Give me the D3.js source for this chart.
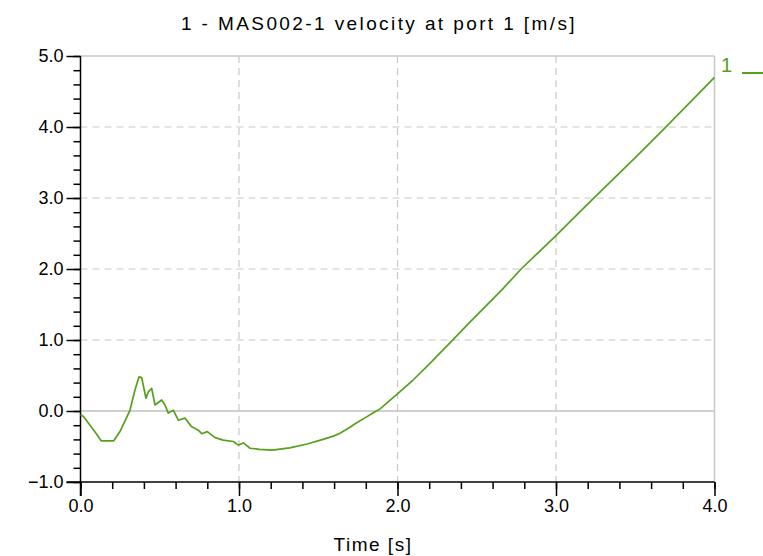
<!DOCTYPE html>
<html>
<head>
<meta charset="utf-8">
<script src="https://cdn.jsdelivr.net/npm/d3@7"></script>
<style>
  html, body { margin: 0; padding: 0; background: #fff; }
  svg { display: block; }
  text { font-family: "Liberation Sans", Arial, sans-serif; fill: #000; }
</style>
</head>
<body>
<svg id="chart" width="763" height="556"></svg>
<script>
const title = "1 - MAS002-1 velocity at port 1 [m/s]";
const xLabel = "Time [s]";
const legendLabel = "1";
const xTicks = [0, 1, 2, 3, 4];
const yTicks = [-1, 0, 1, 2, 3, 4, 5];

const time = [0.0, 0.02, 0.06, 0.10, 0.13, 0.21, 0.249, 0.312, 0.344, 0.369, 0.386, 0.413, 0.428, 0.449, 0.47, 0.512, 0.533, 0.554, 0.586, 0.617, 0.659, 0.70, 0.743, 0.765, 0.80, 0.849, 0.90, 0.964, 0.996, 1.027, 1.07, 1.13, 1.21, 1.32, 1.43, 1.53, 1.60, 1.64, 1.70, 1.74, 1.80, 1.85, 1.89, 1.95, 2.0, 2.05, 2.10, 2.2, 2.34, 2.46, 2.66, 2.78, 3.0, 3.23, 3.5, 3.68, 4.0];
const velocity = [-0.05, -0.08, -0.2, -0.32, -0.42, -0.42, -0.29, 0.01, 0.30, 0.48, 0.47, 0.18, 0.27, 0.32, 0.085, 0.155, 0.085, -0.03, 0.01, -0.13, -0.10, -0.22, -0.27, -0.32, -0.29, -0.375, -0.41, -0.43, -0.48, -0.45, -0.525, -0.54, -0.55, -0.52, -0.465, -0.40, -0.35, -0.31, -0.23, -0.17, -0.09, -0.02, 0.03, 0.145, 0.24, 0.34, 0.44, 0.66, 0.98, 1.26, 1.71, 2.0, 2.47, 2.98, 3.57, 3.97, 4.7];

const lineColor = "#55a01c";
const gridColor = "#c8c8c8";

const svg = d3.select("#chart");
const x = d3.scaleLinear().domain([0, 4]).range([80.5, 714.5]);
const y = d3.scaleLinear().domain([-1, 5]).range([482, 56]);

// grid
const g = svg.append("g");
g.selectAll(".hg").data(yTicks.filter(d => d > -1 && d < 5 && d !== 0)).join("line")
  .attr("x1", x(0)).attr("x2", x(4)).attr("y1", d => y(d)).attr("y2", d => y(d))
  .attr("stroke", gridColor).attr("stroke-width", 1.2).attr("stroke-dasharray", "7,5");
g.selectAll(".vg").data(xTicks.filter(d => d > 0 && d < 4)).join("line")
  .attr("y1", y(5)).attr("y2", y(-1)).attr("x1", d => x(d)).attr("x2", d => x(d))
  .attr("stroke", gridColor).attr("stroke-width", 1.2).attr("stroke-dasharray", "7,5");
// zero line & frame
g.append("line").attr("x1", x(0)).attr("x2", x(4)).attr("y1", y(0)).attr("y2", y(0))
  .attr("stroke", "#c0c0c0").attr("stroke-width", 1.5);
g.append("line").attr("x1", x(0)).attr("x2", x(4)).attr("y1", y(5)).attr("y2", y(5))
  .attr("stroke", gridColor).attr("stroke-width", 1.5);
g.append("line").attr("x1", x(4)).attr("x2", x(4)).attr("y1", y(5)).attr("y2", y(-1))
  .attr("stroke", gridColor).attr("stroke-width", 1.5);

// axes
const minorX = d3.range(0, 4.0001, 0.2).map(d => +d.toFixed(2));
const minorY = d3.range(-1, 5.0001, 0.2).map(d => +d.toFixed(2));

const xAxisMinor = d3.axisBottom(x).tickValues(minorX).tickSize(7).tickFormat("");
const xAxis = d3.axisBottom(x).tickValues(xTicks).tickSize(14).tickPadding(3).tickFormat(d3.format(".1f"));
const yAxisMinor = d3.axisLeft(y).tickValues(minorY).tickSize(7).tickFormat("");
const yAxis = d3.axisLeft(y).tickValues(yTicks).tickSize(14).tickPadding(3).tickFormat(d => d3.format(".1f")(d).replace("-", "\u2212"));

function styleAxis(sel) {
  sel.select(".domain").remove();
  sel.selectAll("line").attr("stroke", "#000").attr("stroke-width", 1.5);
  sel.selectAll("text").attr("font-size", 18).attr("font-family", "Liberation Sans, Arial, sans-serif").attr("fill", "#000");
}

svg.append("g").attr("transform", `translate(0,${y(-1)})`).call(xAxisMinor).call(styleAxis);
svg.append("g").attr("transform", `translate(0,${y(-1)})`).call(xAxis).call(styleAxis);
svg.append("g").attr("transform", `translate(${x(0)},0)`).call(yAxisMinor).call(styleAxis);
svg.append("g").attr("transform", `translate(${x(0)},0)`).call(yAxis).call(styleAxis);

// axis lines
svg.append("line").attr("x1", x(0) - 14).attr("x2", x(4)).attr("y1", y(-1)).attr("y2", y(-1))
  .attr("stroke", "#000").attr("stroke-width", 1.5);
svg.append("line").attr("x1", x(0)).attr("x2", x(0)).attr("y1", y(5)).attr("y2", y(-1) + 14)
  .attr("stroke", "#000").attr("stroke-width", 1.5);

// data line
const line = d3.line().x(d => x(d[0])).y(d => y(d[1]));
svg.append("path").datum(d3.zip(time, velocity))
  .attr("d", line).attr("fill", "none").attr("stroke", lineColor).attr("stroke-width", 1.7)
  .attr("stroke-linejoin", "round");

// title & labels
svg.append("text").attr("x", 379).attr("y", 30).attr("text-anchor", "middle")
  .attr("font-size", 19).attr("letter-spacing", "2.4px").text(title);
svg.append("text").attr("x", 373).attr("y", 551).attr("text-anchor", "middle")
  .attr("font-size", 19).attr("letter-spacing", "1.5px").text(xLabel);

// legend
svg.append("text").attr("x", 721).attr("y", 72).attr("font-size", 20)
  .style("fill", lineColor).text(legendLabel);
svg.append("line").attr("x1", 742).attr("x2", 763).attr("y1", 73).attr("y2", 73)
  .attr("stroke", lineColor).attr("stroke-width", 2);
</script>
</body>
</html>
